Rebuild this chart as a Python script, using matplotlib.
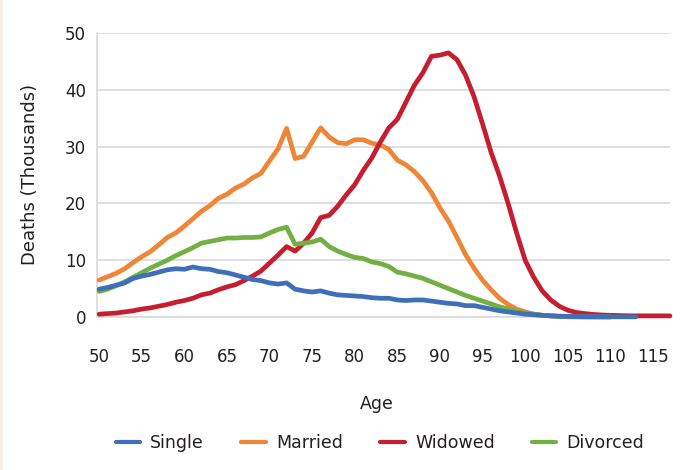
import matplotlib
matplotlib.use("Agg")
import matplotlib.pyplot as plt
import numpy as np

plt.rcParams['font.family'] = ['DejaVu Sans']

ages_single = list(range(50, 114))
single = [4.9, 5.2, 5.6, 6.0, 6.8, 7.2, 7.5, 7.9, 8.3, 8.5, 8.4, 8.8, 8.5, 8.4, 8.0,
          7.8, 7.4, 7.0, 6.6, 6.4, 6.0, 5.8, 6.0, 4.9, 4.6, 4.4, 4.6, 4.2, 3.9, 3.8,
          3.7, 3.6, 3.4, 3.3, 3.3, 3.0, 2.9, 3.0, 3.0, 2.8, 2.6, 2.4, 2.3, 2.0, 2.0,
          1.7, 1.4, 1.1, 0.9, 0.7, 0.5, 0.4, 0.3, 0.2, 0.15, 0.1, 0.08, 0.06, 0.05,
          0.05, 0.04, 0.04, 0.03, 0.03]

ages_married = list(range(50, 111))
married = [6.5, 7.1, 7.7, 8.5, 9.6, 10.6, 11.5, 12.7, 14.0, 14.8, 16.0, 17.3, 18.6,
           19.6, 20.9, 21.6, 22.7, 23.4, 24.5, 25.3, 27.5, 29.6, 33.2, 27.9, 28.3,
           30.8, 33.3, 31.7, 30.7, 30.5, 31.2, 31.2, 30.6, 30.3, 29.5, 27.6, 26.8,
           25.6, 24.0, 21.9, 19.2, 16.9, 14.0, 11.0, 8.6, 6.5, 4.8, 3.3, 2.2, 1.4,
           0.9, 0.5, 0.3, 0.2, 0.1, 0.05, 0.03, 0.02, 0.02, 0.01, 0.01]

ages_widowed = list(range(50, 118))
widowed = [0.5, 0.6, 0.7, 0.9, 1.1, 1.4, 1.6, 1.9, 2.2, 2.6, 2.9, 3.3, 3.9, 4.2, 4.8,
           5.3, 5.7, 6.4, 7.2, 8.1, 9.5, 10.9, 12.4, 11.6, 13.0, 14.8, 17.5, 17.9,
           19.5, 21.5, 23.3, 25.8, 28.0, 30.8, 33.3, 34.8, 37.8, 40.8, 43.0, 45.9,
           46.1, 46.5, 45.3, 42.6, 38.8, 34.0, 29.0, 24.8, 20.0, 14.8, 10.0, 7.0,
           4.6, 3.0, 1.9, 1.2, 0.8, 0.6, 0.45, 0.35, 0.3, 0.25, 0.22, 0.2, 0.2,
           0.2, 0.2, 0.2]

ages_divorced = list(range(50, 111))
divorced = [4.5, 4.9, 5.5, 6.2, 7.0, 7.8, 8.6, 9.3, 10.0, 10.8, 11.5, 12.2, 13.0,
            13.3, 13.6, 13.9, 13.9, 14.0, 14.0, 14.1, 14.8, 15.4, 15.8, 12.8, 13.0,
            13.2, 13.7, 12.4, 11.6, 11.0, 10.5, 10.3, 9.7, 9.4, 8.9, 7.9, 7.6, 7.2,
            6.8, 6.2, 5.6, 5.0, 4.4, 3.8, 3.3, 2.8, 2.3, 1.8, 1.4, 1.0, 0.7, 0.5,
            0.3, 0.2, 0.1, 0.05, 0.03, 0.02, 0.02, 0.01, 0.01]

x_ticks = list(range(50, 116, 5))
y_ticks = [0, 10, 20, 30, 40, 50]

text_color = '#231F20'
grid_color = '#D9D9D9'

fig = plt.figure(figsize=(6.81, 4.70), dpi=100)
fig.patch.set_facecolor('white')
# beige strip at left edge
fig.patches.append(plt.Rectangle((0, 0), 3 / 681, 1, transform=fig.transFigure,
                                 facecolor='#F7F1E3', edgecolor='none'))

ax = fig.add_axes([97 / 681, 1 - 317 / 470, (670 - 97) / 681, (317 - 33) / 470])

series = [
    ('Single', ages_single, single, '#3E6FB8', 5),
    ('Married', ages_married, married, '#EE8537', 3),
    ('Widowed', ages_widowed, widowed, '#C41E30', 3),
    ('Divorced', ages_divorced, divorced, '#72B043', 4),
]
handles = []
for name, xs, ys, col, z in series:
    ln, = ax.plot(xs, ys, color=col, lw=3.4, solid_capstyle='round',
                  solid_joinstyle='round', clip_on=False, zorder=z, label=name)
    handles.append(ln)

ax.set_xlim(49.75, 117)
ax.set_ylim(0, 50)
ax.set_xticks(x_ticks)
ax.set_yticks(y_ticks)
ax.set_xticklabels([str(t) for t in x_ticks])
ax.set_yticklabels([str(t) for t in y_ticks])
ax.tick_params(axis='both', length=0, labelsize=12, colors=text_color)
ax.tick_params(axis='x', pad=22)
ax.tick_params(axis='y', pad=8)
ax.grid(axis='y', color=grid_color, lw=1.2, zorder=0)
ax.set_axisbelow(True)
for s in ['top', 'right']:
    ax.spines[s].set_visible(False)
ax.spines['left'].set_color(grid_color)
ax.spines['left'].set_linewidth(1.2)
ax.spines['bottom'].set_color(grid_color)
ax.spines['bottom'].set_linewidth(1.2)

fig.text(30 / 681, 1 - 174 / 470, 'Deaths (Thousands)', rotation=90, ha='center',
         va='center', fontsize=13, color=text_color)
fig.text(377 / 681, 1 - 404 / 470, 'Age', ha='center', va='center', fontsize=12.5,
         color=text_color)

leg = fig.legend(handles=handles, loc='center', bbox_to_anchor=(380 / 681, 1 - 443 / 470),
                 ncol=4, frameon=False, fontsize=12.5, handlelength=1.4,
                 handletextpad=0.6, columnspacing=2.15, labelcolor=text_color)
for lh in leg.get_lines():
    lh.set_linewidth(3.0)

fig.savefig('out.png', dpi=100, facecolor='white')
